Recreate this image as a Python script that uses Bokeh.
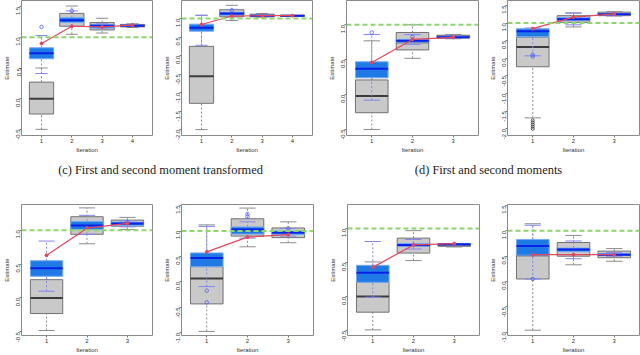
import math
from bokeh.plotting import figure
from bokeh.layouts import column, row
from bokeh.models import Range1d, FixedTicker, PrintfTickFormatter, Span, Label
from bokeh.embed import file_html
from bokeh.resources import INLINE

# ---------------- data ----------------
ITER4 = [1, 2, 3, 4]
ITER3 = [1, 2, 3]
X_TICK_LABELS4 = ["1", "2", "3", "4"]
X_TICK_LABELS3 = ["1", "2", "3"]
Y_TICKS = [-2.0, -1.5, -1.0, -0.5, 0.0, 0.5, 1.0, 1.5]
TRUE_VALUE = 1.0
CAPTIONS = ["(c) First and second moment transformed", "(d) First and second moments"]

# each box: (lower whisker, Q1, median, Q3, upper whisker) per iteration
# panel 1 (c, left)
P1_GREY = [(-0.50, -0.25, 0.00, 0.27, 0.50), (1.05, 1.18, 1.28, 1.39, 1.51),
           (1.07, 1.12, 1.17, 1.24, 1.31), (1.16, 1.17, 1.19, 1.21, 1.22)]
P1_BLUE = [(0.41, 0.65, 0.74, 0.83, 1.03), (1.18, 1.24, 1.28, 1.32, 1.43),
           (1.14, 1.15, 1.19, 1.21, 1.22), (1.18, 1.18, 1.19, 1.20, 1.20)]
P1_MEAN = [0.90, 1.18, 1.17, 1.20]
P1_BLUE_OUT = [(1, 1.17), (2, 1.43)]
P1_GREY_OUT = []
# panel 2 (c, right)
P2_GREY = [(-2.00, -1.29, -0.56, 0.25, 1.09), (0.95, 1.05, 1.14, 1.24, 1.36),
           (1.04, 1.05, 1.08, 1.12, 1.14), (1.08, 1.08, 1.08, 1.08, 1.08)]
P2_BLUE = [(0.28, 0.66, 0.75, 0.85, 1.09), (1.05, 1.09, 1.14, 1.17, 1.25),
           (1.06, 1.07, 1.08, 1.10, 1.11), (1.08, 1.08, 1.08, 1.08, 1.08)]
P2_MEAN = [0.84, 1.07, 1.08, 1.08]
P2_BLUE_OUT = [(2, 1.22)]
P2_GREY_OUT = []
# panel 3 (d, left)
P3_GREY = [(-0.50, -0.26, -0.02, 0.21, 0.77), (0.52, 0.64, 0.75, 0.89, 1.00),
           (0.80, 0.81, 0.83, 0.85, 0.86)]
P3_BLUE = [(-0.08, 0.24, 0.37, 0.47, 0.86), (0.72, 0.75, 0.77, 0.79, 0.86),
           (0.81, 0.82, 0.82, 0.83, 0.84)]
P3_MEAN = [0.46, 0.79, 0.82]
P3_BLUE_OUT = [(1, 0.89), (2, 0.83)]
P3_GREY_OUT = []
# panel 4 (d, right)
P4_GREY = [(-1.69, -0.24, 0.32, 0.60, 0.84), (0.89, 1.02, 1.09, 1.21, 1.29),
           (1.20, 1.21, 1.26, 1.31, 1.32)]
P4_BLUE = [(0.07, 0.61, 0.77, 0.84, 0.86), (0.95, 1.07, 1.11, 1.16, 1.28),
           (1.23, 1.24, 1.25, 1.27, 1.28)]
P4_MEAN = [0.84, 1.17, 1.26]
P4_BLUE_OUT = [(1, 0.05), (1, 0.10)]
P4_GREY_OUT = [(1, -1.76), (1, -1.82), (1, -1.88), (1, -1.94), (1, -2.00)]
# panel 5 (bottom row, left pair, left)
P5_GREY = [(-0.48, -0.23, 0.00, 0.27, 0.53), (0.80, 0.94, 1.07, 1.20, 1.33),
           (1.01, 1.06, 1.09, 1.15, 1.19)]
P5_BLUE = [(0.10, 0.32, 0.44, 0.55, 0.84), (0.94, 1.01, 1.07, 1.13, 1.22),
           (1.05, 1.07, 1.10, 1.12, 1.14)]
P5_MEAN = [0.63, 1.03, 1.10]
P5_BLUE_OUT = [(3, 1.12)]
P5_GREY_OUT = []
# panel 6
P6_GREY = [(-0.97, -0.43, 0.07, 0.30, 1.12), (0.69, 0.90, 1.06, 1.24, 1.45),
           (0.77, 0.87, 0.96, 1.06, 1.18)]
P6_BLUE = [(-0.09, 0.30, 0.47, 0.57, 1.09), (0.86, 0.94, 1.03, 1.08, 1.18),
           (0.90, 0.93, 0.97, 1.00, 1.05)]
P6_MEAN = [0.59, 0.88, 0.93]
P6_BLUE_OUT = [(1, -0.17), (1, -0.40), (2, 1.28), (2, 1.33), (3, 1.05)]
P6_GREY_OUT = []
# panel 7
P7_GREY = [(-0.49, -0.23, 0.00, 0.21, 0.51), (0.53, 0.64, 0.75, 0.86, 0.97),
           (0.73, 0.74, 0.76, 0.78, 0.78)]
P7_BLUE = [(-0.01, 0.21, 0.35, 0.46, 0.81), (0.70, 0.74, 0.76, 0.78, 0.84),
           (0.76, 0.76, 0.77, 0.78, 0.78)]
P7_MEAN = [0.43, 0.76, 0.78]
P7_BLUE_OUT = []
P7_GREY_OUT = []
# panel 8
P8_GREY = [(-0.96, 0.05, 0.52, 0.75, 1.14), (0.33, 0.50, 0.60, 0.77, 0.91),
           (0.40, 0.47, 0.53, 0.60, 0.65)]
P8_BLUE = [(0.05, 0.52, 0.70, 0.83, 1.11), (0.45, 0.59, 0.63, 0.66, 0.80),
           (0.50, 0.52, 0.53, 0.55, 0.57)]
P8_MEAN = [0.53, 0.53, 0.53]
P8_BLUE_OUT = [(1, 0.05)]
P8_GREY_OUT = []

# ---------------- styles ----------------
GREY_FILL = "#C9C9C9"
GREY_LINE = "#727272"
GREY_MED = "#3C3C3C"
GREY_WHISK = "#8C8C8C"
BLUE_FILL = "#1F7AE6"
BLUE_LINE = "#78AAF2"
BLUE_MED = "#0A22E8"
BLUE_WHISK = "#8585F0"
RED = "#E2475C"
GREEN = "#8DD66E"
FRAME = "#8A8A8A"
TXT = "#333333"
FONT = "Liberation Sans"
HALF_BOX = 0.4
HALF_CAP = 0.2


def draw_boxes(p, iters, stats, fill, line, whisk, med):
    lo = [s[0] for s in stats]
    q1 = [s[1] for s in stats]
    md = [s[2] for s in stats]
    q3 = [s[3] for s in stats]
    hi = [s[4] for s in stats]
    left_b = [i - HALF_BOX for i in iters]
    right_b = [i + HALF_BOX for i in iters]
    left_c = [i - HALF_CAP for i in iters]
    right_c = [i + HALF_CAP for i in iters]
    p.segment(x0=iters, y0=q3, x1=iters, y1=hi, line_color=whisk, line_dash="2 2", line_width=1)
    p.segment(x0=iters, y0=lo, x1=iters, y1=q1, line_color=whisk, line_dash="2 2", line_width=1)
    p.segment(x0=left_c, y0=hi, x1=right_c, y1=hi, line_color=whisk, line_width=1)
    p.segment(x0=left_c, y0=lo, x1=right_c, y1=lo, line_color=whisk, line_width=1)
    p.quad(left=left_b, right=right_b, bottom=q1, top=q3, fill_color=fill, line_color=line, line_width=1)
    p.segment(x0=left_b, y0=md, x1=right_b, y1=md, line_color=med, line_width=2)


def panel(iters, xlabels, grey, blue, mean, blue_out, grey_out, yr, w, h, bl, br, bt, bb):
    n = len(iters)
    pad = 0.04 * n
    p = figure(width=w, height=h, title=None,
               x_range=Range1d(0.5 - pad, n + 0.5 + pad), y_range=Range1d(*yr),
               output_backend="svg", toolbar_location=None,
               min_border_left=bl, min_border_right=br, min_border_top=bt, min_border_bottom=bb)
    p.xgrid.visible = False
    p.ygrid.visible = False
    p.outline_line_color = FRAME
    p.outline_line_width = 1
    p.background_fill_color = "white"
    p.border_fill_color = "white"

    draw_boxes(p, iters, grey, GREY_FILL, GREY_LINE, GREY_WHISK, GREY_MED)
    draw_boxes(p, iters, blue, BLUE_FILL, BLUE_LINE, BLUE_WHISK, BLUE_MED)
    if grey_out:
        p.scatter(x=[o[0] for o in grey_out], y=[o[1] for o in grey_out], marker="circle",
                  size=3, fill_color=None, line_color="#333333", line_width=0.8)
    if blue_out:
        p.scatter(x=[o[0] for o in blue_out], y=[o[1] for o in blue_out], marker="circle",
                  size=3.5, fill_color=None, line_color="#5060F0", line_width=0.8)
    p.add_layout(Span(location=TRUE_VALUE, dimension="width", line_color=GREEN,
                      line_dash="5 3", line_width=2))
    p.line(x=iters, y=mean, line_color=RED, line_width=1.2)
    p.scatter(x=iters, y=mean, marker="circle", size=3, fill_color=RED, line_color=RED)

    p.xaxis.ticker = FixedTicker(ticks=iters)
    p.xaxis.major_label_overrides = {i: s for i, s in zip(iters, xlabels)}
    p.yaxis.ticker = FixedTicker(ticks=Y_TICKS)
    p.yaxis.formatter = PrintfTickFormatter(format="%.1f")
    for ax in (p.xaxis[0], p.yaxis[0]):
        ax.axis_line_color = None
        ax.major_tick_line_color = "#777777"
        ax.major_tick_out = 2
        ax.major_tick_in = 0
        ax.minor_tick_line_color = None
        ax.major_label_standoff = 1
        ax.major_label_text_font = FONT
        ax.major_label_text_font_size = "6px"
        ax.major_label_text_color = TXT
        ax.axis_label_text_font = FONT
        ax.axis_label_text_font_size = "6px"
        ax.axis_label_text_font_style = "normal"
        ax.axis_label_text_color = TXT
        ax.axis_label_standoff = 1
    p.yaxis.axis_label_standoff = 2
    p.yaxis.axis_label_text_color = TXT
    p.yaxis.major_label_orientation = math.pi / 2
    p.xaxis.axis_label = "Iteration"
    p.yaxis.axis_label = "Estimate"
    return p


TOP_H = 160
BOT_H = 165
p1 = panel(ITER4, X_TICK_LABELS4, P1_GREY, P1_BLUE, P1_MEAN, P1_BLUE_OUT, P1_GREY_OUT,
           (-0.60, 1.60), 160, TOP_H, 19, 8, 0, 25)
p2 = panel(ITER4, X_TICK_LABELS4, P2_GREY, P2_BLUE, P2_MEAN, P2_BLUE_OUT, P2_GREY_OUT,
           (-2.16, 1.49), 162, TOP_H, 20, 10, 0, 25)
p3 = panel(ITER3, X_TICK_LABELS3, P3_GREY, P3_BLUE, P3_MEAN, P3_BLUE_OUT, P3_GREY_OUT,
           (-0.586, 1.348), 160, TOP_H, 24, 4, 0, 25)
p4 = panel(ITER3, X_TICK_LABELS3, P4_GREY, P4_BLUE, P4_MEAN, P4_BLUE_OUT, P4_GREY_OUT,
           (-2.19, 1.64), 158, TOP_H, 25, 1, 0, 25)

p5 = panel(ITER3, X_TICK_LABELS3, P5_GREY, P5_BLUE, P5_MEAN, P5_BLUE_OUT, P5_GREY_OUT,
           (-0.554, 1.38), 160, BOT_H, 18, 8, 14, 19)
p6 = panel(ITER3, X_TICK_LABELS3, P6_GREY, P6_BLUE, P6_MEAN, P6_BLUE_OUT, P6_GREY_OUT,
           (-1.05, 1.52), 162, BOT_H, 19, 9, 14, 19)
p7 = panel(ITER3, X_TICK_LABELS3, P7_GREY, P7_BLUE, P7_MEAN, P7_BLUE_OUT, P7_GREY_OUT,
           (-0.573, 1.355), 160, BOT_H, 25, 3, 14, 19)
p8 = panel(ITER3, X_TICK_LABELS3, P8_GREY, P8_BLUE, P8_MEAN, P8_BLUE_OUT, P8_GREY_OUT,
           (-1.065, 1.52), 158, BOT_H, 25, 1, 14, 19)

cap = figure(width=640, height=30, title=None, x_range=Range1d(0, 640), y_range=Range1d(0, 30),
             x_axis_type=None, y_axis_type=None, output_backend="svg", toolbar_location=None,
             min_border_left=0, min_border_right=0, min_border_top=0, min_border_bottom=0)
cap.outline_line_color = None
cap.xgrid.visible = False
cap.ygrid.visible = False
cap.add_layout(Label(x=160, y=21, x_units="screen", y_units="screen", text=CAPTIONS[0],
                     text_align="center", text_baseline="middle", text_font="Liberation Serif",
                     text_font_size="12.4px", text_color="#222222"))
cap.add_layout(Label(x=488, y=21, x_units="screen", y_units="screen", text=CAPTIONS[1],
                     text_align="center", text_baseline="middle", text_font="Liberation Serif",
                     text_font_size="12.4px", text_color="#222222"))

layout = column(row(p1, p2, p3, p4), cap, row(p5, p6, p7, p8))
open("out.html", "w").write(file_html(layout, INLINE))
